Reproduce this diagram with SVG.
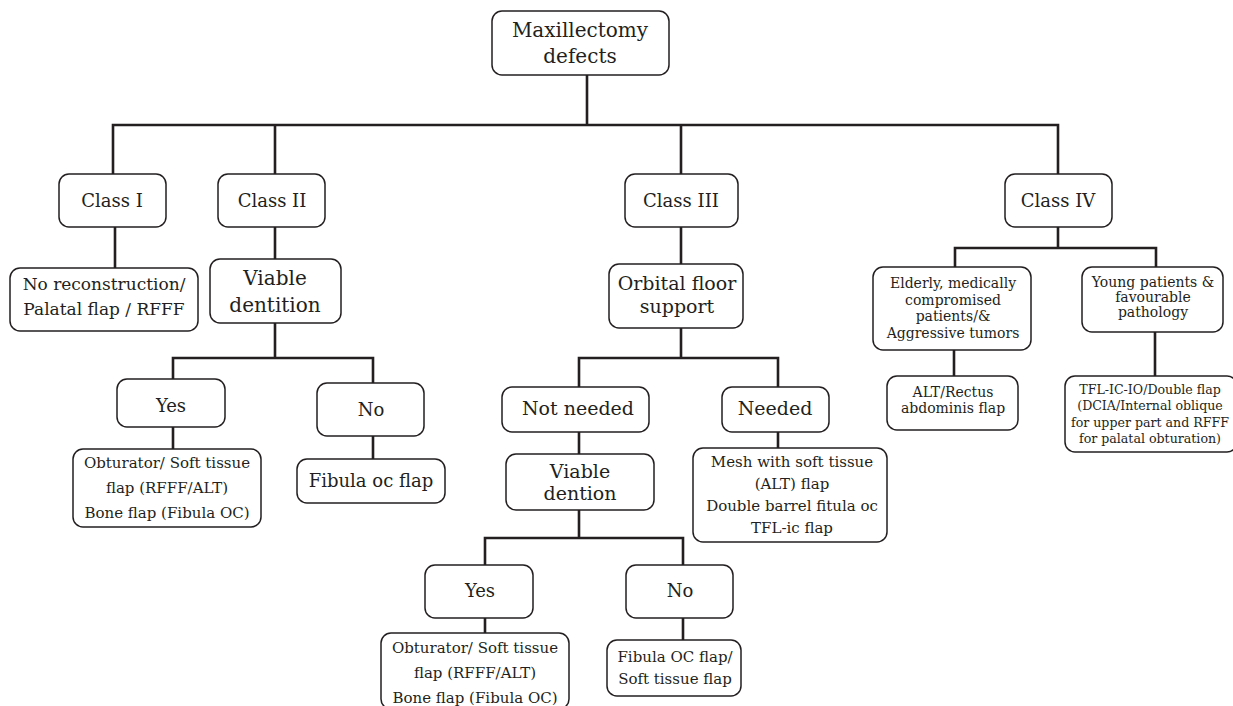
<svg xmlns="http://www.w3.org/2000/svg" width="1233" height="706" viewBox="0 0 1233 706">
<style>
.b{fill:#fff;stroke:#231f20;stroke-width:1.5}
.c{fill:none;stroke:#231f20;stroke-width:2.6;stroke-linecap:square}
text{font-family:"DejaVu Serif","Liberation Serif",serif;fill:#231f20;text-anchor:middle}
.t20{font-size:20px}.t19{font-size:19px}.t18{font-size:18px}.t17{font-size:17px}.t15{font-size:15px}.t14{font-size:14px}.t13{font-size:12.6px}
</style>
<rect width="1233" height="706" fill="#fff"/>
<g id="connectors">
<path class="c" d="M587 75V125M113 125H1058M113 125V174M275 125V174M681 125V174M1058 125V174"/>
<path class="c" d="M115 227V268M275 227V259M275 323V358M173 358H373M173 358V379M373 358V383M173 427V449M373 436V459"/>
<path class="c" d="M681 227V264M681 328V358M579 358H778M579 358V387M778 358V387M579 432V454M778 432V448M579 510V538M485 538H683M485 538V565M683 538V565M485 618V633M683 618V640"/>
<path class="c" d="M1058 227V248M955 248H1156M955 248V267M1156 248V267M954 350V376M1155 332V376"/>
</g>
<g id="n-root"><rect class="b" x="492" y="11" width="177" height="64" rx="10"/><text class="t20" x="580" y="37">Maxillectomy</text><text class="t20" x="580" y="63">defects</text></g>
<g id="n-class1"><rect class="b" x="59" y="174" width="107" height="53" rx="10"/><text class="t18" x="112" y="207">Class I</text></g>
<g id="n-class2"><rect class="b" x="218" y="174" width="107" height="53" rx="10"/><text class="t18" x="272" y="207">Class II</text></g>
<g id="n-class3"><rect class="b" x="625" y="174" width="113" height="53" rx="10"/><text class="t18" x="681" y="207">Class III</text></g>
<g id="n-class4"><rect class="b" x="1005" y="174" width="107" height="53" rx="10"/><text class="t18" x="1058" y="207">Class IV</text></g>
<g id="n-norecon"><rect class="b" x="10" y="268" width="188" height="63" rx="10"/><text class="t17" x="104" y="290">No reconstruction/</text><text class="t17" x="104" y="315">Palatal flap / RFFF</text></g>
<g id="n-viable2"><rect class="b" x="210" y="259" width="131" height="64" rx="10"/><text class="t20" x="275" y="285">Viable</text><text class="t20" x="275" y="312">dentition</text></g>
<g id="n-yes2"><rect class="b" x="117" y="379" width="108" height="48" rx="10"/><text class="t18" x="171" y="412">Yes</text></g>
<g id="n-no2"><rect class="b" x="317" y="383" width="107" height="53" rx="10"/><text class="t18" x="371" y="416">No</text></g>
<g id="n-obt2"><rect class="b" x="73" y="449" width="188" height="78" rx="10"/><text class="t15" x="167" y="468">Obturator/ Soft tissue</text><text class="t15" x="167" y="493">flap (RFFF/ALT)</text><text class="t15" x="167" y="518">Bone flap (Fibula OC)</text></g>
<g id="n-fib2"><rect class="b" x="297" y="459" width="148" height="44" rx="10"/><text class="t18" x="371" y="487">Fibula oc flap</text></g>
<g id="n-orbital"><rect class="b" x="609" y="264" width="134" height="64" rx="10"/><text class="t19" x="677" y="290">Orbital floor</text><text class="t19" x="677" y="313">support</text></g>
<g id="n-notneeded"><rect class="b" x="502" y="387" width="147" height="45" rx="10"/><text class="t19" x="578" y="415">Not needed</text></g>
<g id="n-needed"><rect class="b" x="722" y="387" width="107" height="45" rx="10"/><text class="t19" x="775" y="415">Needed</text></g>
<g id="n-viable3"><rect class="b" x="506" y="454" width="148" height="56" rx="10"/><text class="t19" x="580" y="478">Viable</text><text class="t19" x="580" y="500">dention</text></g>
<g id="n-mesh"><rect class="b" x="693" y="448" width="194" height="94" rx="10"/><text class="t15" x="792" y="467">Mesh with soft tissue</text><text class="t15" x="792" y="489">(ALT) flap</text><text class="t15" x="792" y="511">Double barrel fitula oc</text><text class="t15" x="792" y="533">TFL-ic flap</text></g>
<g id="n-yes3"><rect class="b" x="425" y="565" width="108" height="53" rx="10"/><text class="t18" x="480" y="597">Yes</text></g>
<g id="n-no3"><rect class="b" x="626" y="565" width="107" height="53" rx="10"/><text class="t18" x="680" y="597">No</text></g>
<g id="n-obt3"><rect class="b" x="381" y="633" width="188" height="76" rx="10"/><text class="t15" x="475" y="653">Obturator/ Soft tissue</text><text class="t15" x="475" y="678">flap (RFFF/ALT)</text><text class="t15" x="475" y="703">Bone flap (Fibula OC)</text></g>
<g id="n-fib3"><rect class="b" x="607" y="640" width="134" height="56" rx="10"/><text class="t15" x="675" y="662">Fibula OC flap/</text><text class="t15" x="675" y="684">Soft tissue flap</text></g>
<g id="n-elderly"><rect class="b" x="873" y="267" width="158" height="83" rx="10"/><text class="t14" x="953" y="288">Elderly, medically</text><text class="t14" x="953" y="305">compromised</text><text class="t14" x="953" y="321">patients/&amp;</text><text class="t14" x="953" y="338">Aggressive tumors</text></g>
<g id="n-young"><rect class="b" x="1082" y="267" width="141" height="65" rx="10"/><text class="t14" x="1153" y="287">Young patients &amp;</text><text class="t14" x="1153" y="302">favourable</text><text class="t14" x="1153" y="317">pathology</text></g>
<g id="n-alt"><rect class="b" x="887" y="376" width="131" height="54" rx="10"/><text class="t14" x="953" y="397">ALT/Rectus</text><text class="t14" x="953" y="413">abdominis flap</text></g>
<g id="n-tfl"><rect class="b" x="1065" y="376" width="172" height="76" rx="10"/><text class="t13" x="1150" y="394">TFL-IC-IO/Double flap</text><text class="t13" x="1150" y="410">(DCIA/Internal oblique</text><text class="t13" x="1150" y="427">for upper part and RFFF</text><text class="t13" x="1150" y="443">for palatal obturation)</text></g>
</svg>
